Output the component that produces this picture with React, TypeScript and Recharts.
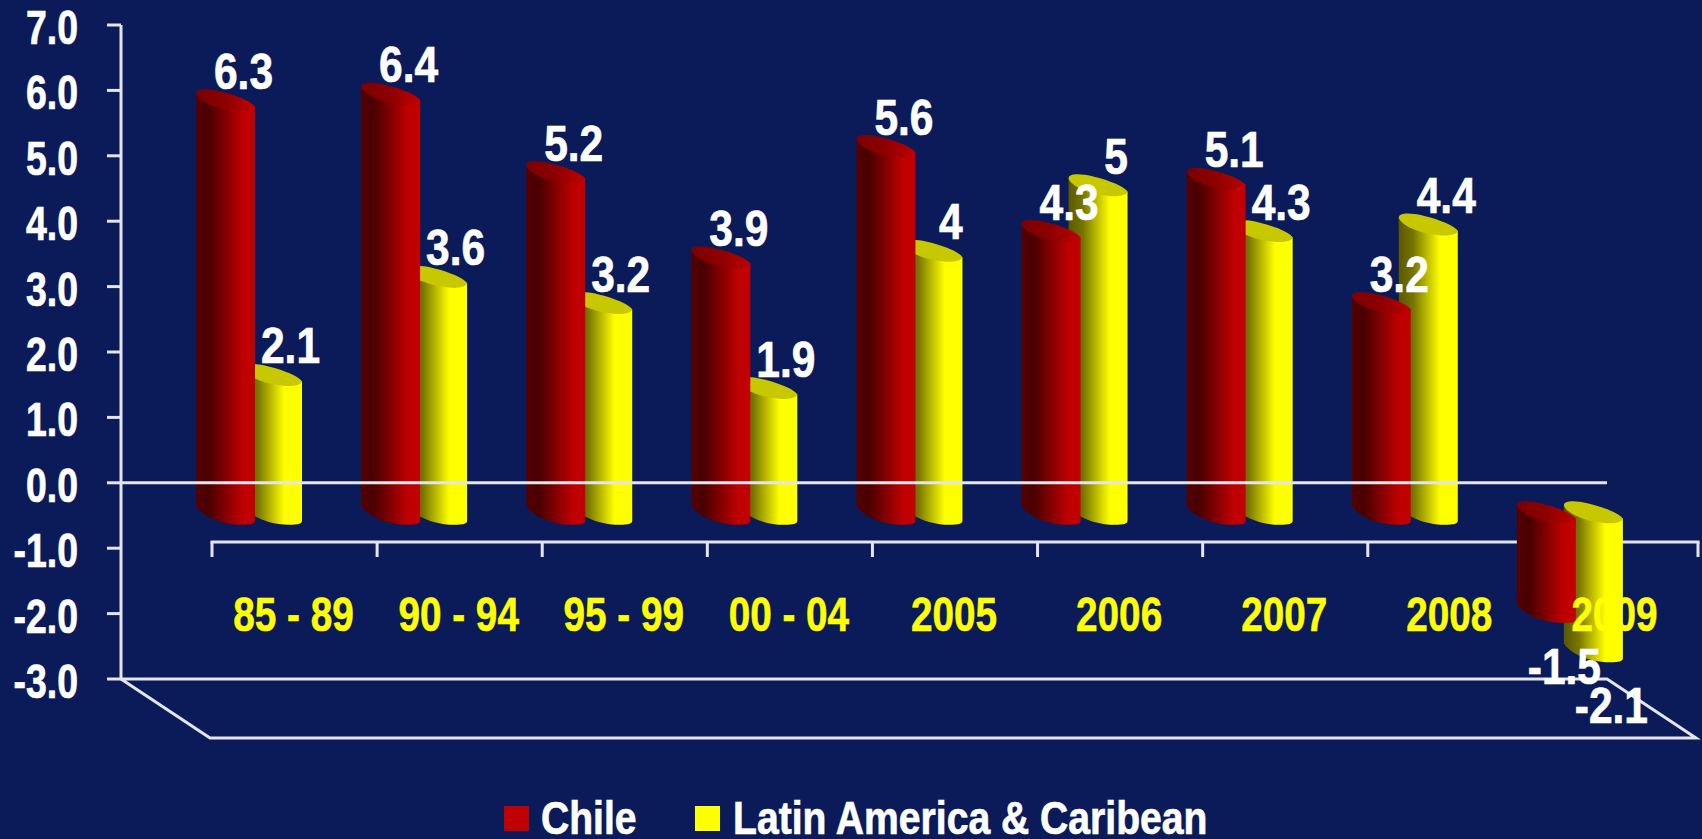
import React from 'react';
import { ComposedChart, Bar, XAxis, YAxis, ReferenceLine, LabelList, Legend, Customized } from 'recharts';

const categories = ['85 - 89', '90 - 94', '95 - 99', '00 - 04', '2005', '2006', '2007', '2008', '2009'];
const chileValues = [6.3, 6.4, 5.2, 3.9, 5.6, 4.3, 5.1, 3.2, -1.5];
const latamValues = [2.1, 3.6, 3.2, 1.9, 4, 5, 4.3, 4.4, -2.1];
const yTicks = [7, 6, 5, 4, 3, 2, 1, 0, -1, -2, -3];
const legendNames = ['Chile', 'Latin America & Caribean'];

const W = 1702, H = 839;
const BG = '#0b1b5a';
const LINE = '#e4e6ee';
const FONT = '"Liberation Sans", Arial, sans-serif';
const plot = { left: 121, right: 1607, top: 25, bottom: 679 };
const depth = { x: 89, y: 59 };
const mid = { x: 45, y: 30 };
const zeroY = 483;

const data = categories.map((c, i) => ({ name: c, chile: chileValues[i], latam: latamValues[i] }));

const Cylinder = (dx: number, body: string, topFace: string) => (p: any) => {
  const x0 = p.x + dx;
  const x1 = x0 + p.width;
  const top = Math.min(p.y, p.y + p.height) + mid.y;
  const bot = Math.max(p.y, p.y + p.height) + mid.y;
  const w = p.width;
  const bodyPath = `M${x0},${top - 7} L${x0},${bot - 7} C${x0 + 5},${bot + 2} ${x0 + w * 0.4},${bot + 12} ${x0 + w * 0.78},${bot + 12} C${x1 - 4},${bot + 12} ${x1},${bot + 11} ${x1},${bot + 8} L${x1},${top + 6} Z`;
  const topPath = `M${x0},${top - 7} C${x0},${top - 12} ${x0 + 8},${top - 12} ${x0 + 16},${top - 11} C${x0 + 34},${top - 8} ${x1 - 3},${top} ${x1},${top + 6} C${x1 - 2},${top + 11} ${x1 - 14},${top + 11} ${x1 - 20},${top + 10} C${x0 + 18},${top + 8} ${x0 + 3},${top} ${x0},${top - 7} Z`;
  return (
    <g>
      <path d={bodyPath} fill={`url(#${body})`} />
      <path d={topPath} fill={topFace.startsWith('#') ? topFace : `url(#${topFace})`} />
    </g>
  );
};

const ValueLabel = (dx: number) => (p: any) => {
  const top = Math.min(p.y, p.y + p.height) + mid.y;
  const bot = Math.max(p.y, p.y + p.height) + mid.y;
  const neg = p.value < 0;
  const cx = p.x + dx + p.width / 2 + 18;
  const by = neg ? bot + 73 : top - 12;
  return (
    <text transform={`translate(${cx},${by}) scale(0.85,1)`} textAnchor="middle" fill="#fff" stroke="#fff" strokeWidth={0.7}
      fontFamily={FONT} fontWeight="bold" fontSize={50}>{p.value}</text>
  );
};

const YTick = (p: any) => (
  <text transform={`translate(78,${p.y + 19}) scale(0.78,1)`} textAnchor="end" fill="#fff" stroke="#fff" strokeWidth={0.7}
    fontFamily={FONT} fontWeight="bold" fontSize={48}>{Number(p.payload.value).toFixed(1)}</text>
);

const XTick = (p: any) => (
  <text transform={`translate(${p.x + depth.x + 1},631) scale(0.79,1)`} textAnchor="middle" fill="#ffff00" stroke="#ffff00" strokeWidth={0.6}
    fontFamily={FONT} fontWeight="bold" fontSize={49}>{p.payload.value}</text>
);

const Floor = () => (
  <g stroke={LINE} strokeWidth={3} fill="none">
    <polyline points={`${plot.left},${plot.bottom} ${plot.left + depth.x},${plot.bottom + depth.y} ${plot.right + depth.x},${plot.bottom + depth.y} ${plot.right},${plot.bottom} ${plot.left},${plot.bottom}`} />
  </g>
);

const FrontAxis = () => {
  const step = (plot.right - plot.left) / categories.length;
  const y = zeroY + depth.y;
  const x0 = plot.left + depth.x + 2;
  return (
    <g stroke={LINE} strokeWidth={3} fill="none">
      <line x1={x0 - 1.5} x2={x0 + step * categories.length + 1.5} y1={y} y2={y} />
      {[...categories, ''].map((_, i) => (
        <line key={i} x1={x0 + step * i} x2={x0 + step * i} y1={y} y2={y + 15} />
      ))}
    </g>
  );
};

const LegendBox = () => (
  <div style={{ position: 'relative', width: W, height: H }}>
    {legendNames.map((n, i) => (
      <React.Fragment key={n}>
        <div style={{ position: 'absolute', left: i ? 695 : 504, top: 806, width: 25, height: 25, background: i ? '#ffff00' : '#c00000' }} />
        <div style={{
          position: 'absolute', left: i ? 733 : 541, top: 786, height: 52, fontFamily: FONT, fontWeight: 'bold', fontSize: 46,
          lineHeight: '52px', color: '#fff', whiteSpace: 'nowrap', transform: 'translateY(6px) scaleX(0.85)', transformOrigin: 'left top',
          WebkitTextStroke: '0.7px #fff',
        }}>{n}</div>
      </React.Fragment>
    ))}
  </div>
);

export default function App() {
  return (
    <div style={{ position: 'fixed', left: 0, top: 0, width: W, height: H, background: BG, overflow: 'hidden' }}>
      <ComposedChart width={W} height={H} data={data} barSize={59} barGap={-12}
        margin={{ left: 0, right: W - plot.right, top: plot.top, bottom: 0 }}>
        <defs>
          <linearGradient id="redBody" x1="0" x2="1" y1="0" y2="0">
            <stop offset="0" stopColor="#560000" />
            <stop offset="0.2" stopColor="#480000" />
            <stop offset="0.8" stopColor="#c00000" />
            <stop offset="1" stopColor="#c00000" />
          </linearGradient>
          <linearGradient id="redTop" x1="0" x2="1" y1="0" y2="0">
            <stop offset="0" stopColor="#7a0000" />
            <stop offset="0.5" stopColor="#8e0000" />
            <stop offset="1" stopColor="#c00000" />
          </linearGradient>
          <linearGradient id="yellowBody" x1="0" x2="1" y1="0" y2="0">
            <stop offset="0" stopColor="#5a5800" />
            <stop offset="0.25" stopColor="#787600" />
            <stop offset="0.7" stopColor="#ffff00" />
            <stop offset="1" stopColor="#ffff00" />
          </linearGradient>
        </defs>
        <YAxis domain={[-3, 7]} ticks={yTicks} width={plot.left} interval={0} tick={YTick} tickSize={14}
          stroke={LINE} strokeWidth={3} allowDataOverflow />
        <ReferenceLine y={0} stroke={LINE} strokeWidth={3} />
        <Customized component={Floor} />
        <Bar dataKey="latam" name={legendNames[1]} isAnimationActive={false} shape={Cylinder(92, 'yellowBody', '#c8c800')}>
          <LabelList dataKey="latam" content={ValueLabel(92)} />
        </Bar>
        <Bar dataKey="chile" name={legendNames[0]} isAnimationActive={false} shape={Cylinder(-2, 'redBody', 'redTop')}>
          <LabelList dataKey="chile" content={ValueLabel(-2)} />
        </Bar>
        <Customized component={FrontAxis} />
        <XAxis dataKey="name" height={H - plot.bottom} axisLine={false} tickLine={false} interval={0} tick={XTick} />
        <Legend layout="horizontal" verticalAlign="middle" content={LegendBox}
          wrapperStyle={{ left: 0, top: 0, width: W, height: H, pointerEvents: 'none' }} />
      </ComposedChart>
    </div>
  );
}
